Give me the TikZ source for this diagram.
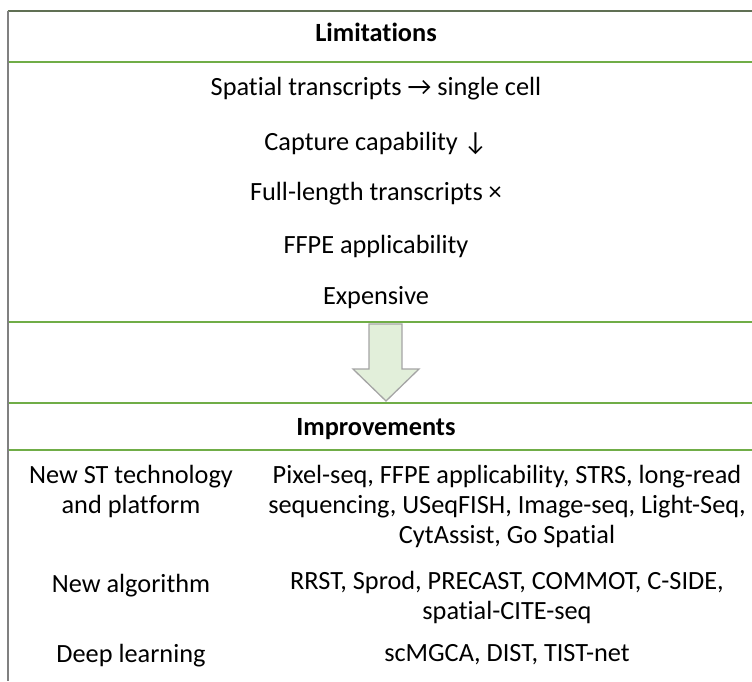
\documentclass[tikz,border=0pt]{standalone}
\usepackage{fontspec}
\setmainfont{Carlito}[Ligatures=NoCommon]
\definecolor{gline}{RGB}{112,173,71}
\definecolor{topline}{RGB}{96,112,84}
\definecolor{vline}{RGB}{128,128,128}
\definecolor{arrfill}{RGB}{226,239,218}
\definecolor{arrdraw}{RGB}{165,165,165}
\begin{document}
\begin{tikzpicture}[x=1pt,y=-1pt,
  txt/.style={inner sep=0pt,font=\fontsize{26.3}{30}\selectfont,align=center,anchor=base},
  hdr/.style={txt,font=\fontsize{26.3}{30}\selectfont\bfseries},
  sep/.style={draw=gline,line width=1.8pt}]
\useasboundingbox (0,0) rectangle (752,681);
% frame
\coordinate (tl) at (7.5,11);
\coordinate (tr) at (752,11);
\coordinate (bl) at (7.5,681);
\draw[topline,line width=2pt] (tl) -- (tr);
\draw[vline,line width=2pt] (tl) -- (bl);
% separators
\foreach \n/\y in {a/62,b/322,c/403,d/450}{
  \coordinate (\n L) at (8.5,\y);
  \coordinate (\n R) at (752,\y);
  \draw[sep] (\n L) -- (\n R);
}
% header
\node[hdr] (lim) at (376,41) {Limitations};
\node[txt] (l1) at (376,95) {Spatial transcripts \char"2192\ single cell};
\node[txt] (l2) at (376,150) {Capture capability \char"2193};
\node[txt] (l3) at (376,200) {Full-length transcripts \char"00D7};
\node[txt] (l4) at (376,253) {FFPE applicability};
\node[txt] (l5) at (376,304) {Expensive};
% arrow
\draw[draw=arrdraw,fill=arrfill,line width=1.3pt,line join=miter]
  (369,324) -- (402,324) -- (402,369) -- (419,369) -- (386,401)
  -- (353,369) -- (369,369) -- cycle;
\node[hdr] (imp) at (376,435) {Improvements};
% rows (base anchor = baseline of last line)
\node[txt] (r1a) at (131,513) {New ST technology\\and platform};
\node[txt] (r1b) at (507,543) {Pixel-seq, FFPE applicability, STRS, long-read\\sequencing, USeqFISH, Image-seq, Light-Seq,\\CytAssist, Go Spatial};
\node[txt] (r2a) at (131,592) {New algorithm};
\node[txt] (r2b) at (507,619) {RRST, Sprod, PRECAST, COMMOT, C-SIDE,\\spatial-CITE-seq};
\node[txt] (r3a) at (131,662) {Deep learning};
\node[txt] (r3b) at (507,661) {scMGCA, DIST, TIST-net};
\end{tikzpicture}
\end{document}
